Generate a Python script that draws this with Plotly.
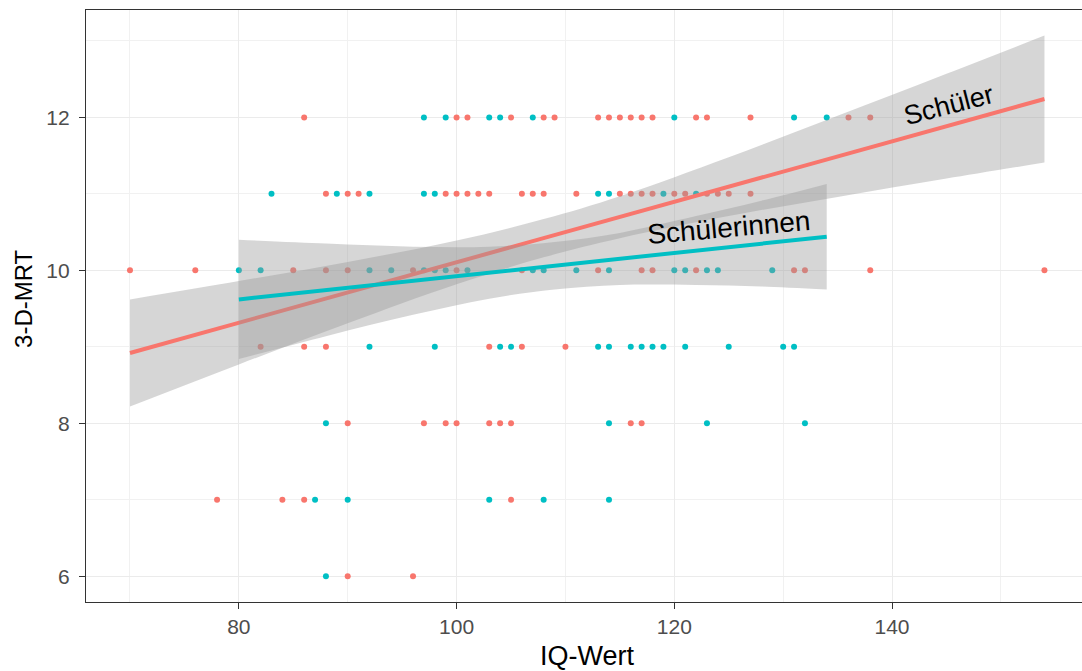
import plotly.graph_objects as go

# ---- data ----
boys_iq = [86, 100, 101, 105, 108, 109, 113, 114, 115, 116, 117, 118, 122, 123, 127, 136, 138,
           88, 90, 91, 99, 100, 101, 102, 103, 106, 107, 108, 111, 115, 116, 117, 118, 120, 121, 123, 124, 125, 127,
           70, 76, 85, 88, 90, 96, 100, 106, 113, 117, 118, 122, 131, 132, 138, 154,
           82, 86, 88, 103, 106, 110,
           90, 97, 99, 100, 103, 104, 105, 116, 117,
           78, 84, 86, 105,
           90, 96]
boys_mrt = [12, 12, 12, 12, 12, 12, 12, 12, 12, 12, 12, 12, 12, 12, 12, 12, 12,
            11, 11, 11, 11, 11, 11, 11, 11, 11, 11, 11, 11, 11, 11, 11, 11, 11, 11, 11, 11, 11, 11,
            10, 10, 10, 10, 10, 10, 10, 10, 10, 10, 10, 10, 10, 10, 10, 10,
            9, 9, 9, 9, 9, 9,
            8, 8, 8, 8, 8, 8, 8, 8, 8,
            7, 7, 7, 7,
            6, 6]

girls_iq = [97, 99, 103, 104, 107, 120, 131, 134,
            83, 89, 92, 97, 98, 113, 114, 119, 122,
            80, 82, 92, 94, 97, 98, 99, 101, 107, 108, 111, 114, 120, 121, 123, 124, 129,
            92, 98, 104, 105, 113, 114, 116, 117, 118, 119, 121, 125, 130, 131,
            88, 114, 123, 132,
            87, 90, 103, 108, 114,
            88]
girls_mrt = [12, 12, 12, 12, 12, 12, 12, 12,
             11, 11, 11, 11, 11, 11, 11, 11, 11,
             10, 10, 10, 10, 10, 10, 10, 10, 10, 10, 10, 10, 10, 10, 10, 10, 10,
             9, 9, 9, 9, 9, 9, 9, 9, 9, 9, 9, 9, 9, 9,
             8, 8, 8, 8,
             7, 7, 7, 7, 7,
             6]

# regression lines
boys_fit_iq = [70, 154]
boys_fit_mrt = [8.92, 12.24]
girls_fit_iq = [80, 134]
girls_fit_mrt = [9.62, 10.44]

# confidence bands
boys_band_iq = [70, 80, 90, 100, 108, 115, 125, 135, 145, 154]
boys_band_lo = [8.22, 8.77, 9.31, 9.82, 10.17, 10.42, 10.71, 10.96, 11.20, 11.41]
boys_band_hi = [9.62, 9.86, 10.11, 10.39, 10.67, 10.97, 11.48, 12.02, 12.57, 13.07]

girls_band_iq = [80, 88, 96, 103, 109, 115, 122, 128, 134]
girls_band_lo = [8.84, 9.14, 9.42, 9.63, 9.75, 9.81, 9.81, 9.79, 9.75]
girls_band_hi = [10.40, 10.35, 10.31, 10.31, 10.37, 10.49, 10.71, 10.91, 11.13]

x_ticks = [80, 100, 120, 140]
y_ticks = [6, 8, 10, 12]

RED = "#F8766D"
CYAN = "#00BFC4"
BAND = "rgba(153,153,153,0.4)"
FONT = "Liberation Sans, Arial, sans-serif"

fig = go.Figure()

fig.add_trace(go.Scatter(x=boys_iq, y=boys_mrt, mode="markers",
                         marker=dict(color=RED, size=6, line=dict(width=0)),
                         name="Schüler", showlegend=False, hoverinfo="skip"))
fig.add_trace(go.Scatter(x=girls_iq, y=girls_mrt, mode="markers",
                         marker=dict(color=CYAN, size=6, line=dict(width=0)),
                         name="Schülerinnen", showlegend=False, hoverinfo="skip"))

# boys band + line
fig.add_trace(go.Scatter(x=boys_band_iq, y=boys_band_lo, mode="lines",
                         line=dict(width=0, shape="spline"), showlegend=False, hoverinfo="skip"))
fig.add_trace(go.Scatter(x=boys_band_iq, y=boys_band_hi, mode="lines", fill="tonexty",
                         fillcolor=BAND, line=dict(width=0, shape="spline"),
                         showlegend=False, hoverinfo="skip"))
fig.add_trace(go.Scatter(x=boys_fit_iq, y=boys_fit_mrt, mode="lines",
                         line=dict(color=RED, width=4), showlegend=False, hoverinfo="skip"))

# girls band + line
fig.add_trace(go.Scatter(x=girls_band_iq, y=girls_band_lo, mode="lines",
                         line=dict(width=0, shape="spline"), showlegend=False, hoverinfo="skip"))
fig.add_trace(go.Scatter(x=girls_band_iq, y=girls_band_hi, mode="lines", fill="tonexty",
                         fillcolor=BAND, line=dict(width=0, shape="spline"),
                         showlegend=False, hoverinfo="skip"))
fig.add_trace(go.Scatter(x=girls_fit_iq, y=girls_fit_mrt, mode="lines",
                         line=dict(color=CYAN, width=4), showlegend=False, hoverinfo="skip"))

axis_common = dict(
    showgrid=True, gridcolor="#EBEBEB", gridwidth=1.2,
    showline=True, linecolor="#333333", linewidth=1.2, mirror=True,
    ticks="outside", ticklen=6, tickwidth=1.3, tickcolor="#333333",
    tickfont=dict(family=FONT, size=21, color="#4D4D4D"),
    zeroline=False, automargin=False,
)

fig.update_xaxes(range=[65.96, 157.45], tickvals=x_ticks,
                 minor=dict(dtick=10, tick0=0, showgrid=True, gridcolor="#F1F1F1", gridwidth=0.7, ticks=""),
                 **axis_common)
fig.update_yaxes(range=[5.664, 13.404], tickvals=y_ticks, ticklabelstandoff=5,
                 minor=dict(dtick=1, tick0=0, showgrid=True, gridcolor="#F1F1F1", gridwidth=0.7, ticks=""),
                 **axis_common)

fig.add_annotation(x=145.2, y=12.16, text="Schüler", showarrow=False, textangle=-14.5,
                   font=dict(family=FONT, size=27, color="black"))
fig.add_annotation(x=125.0, y=10.56, text="Schülerinnen", showarrow=False, textangle=-5,
                   font=dict(family=FONT, size=28, color="black"))

# axis titles
fig.add_annotation(xref="paper", yref="paper", x=0.503, y=-0.0912, text="IQ-Wert",
                   showarrow=False, xanchor="center", yanchor="middle",
                   font=dict(family=FONT, size=27, color="black"))
fig.add_annotation(xref="paper", yref="paper", x=-0.0622, y=0.512, text="3-D-MRT",
                   showarrow=False, xanchor="center", yanchor="middle", textangle=-90,
                   font=dict(family=FONT, size=24, color="black"))

fig.update_layout(
    width=1082, height=671,
    margin=dict(l=86, r=0, t=10, b=69, pad=0),
    plot_bgcolor="white", paper_bgcolor="white",
    showlegend=False,
)

fig.write_html("out.html",
               config={"displayModeBar": False},
               post_script="document.body.style.margin='0';document.body.style.overflow='hidden';")
